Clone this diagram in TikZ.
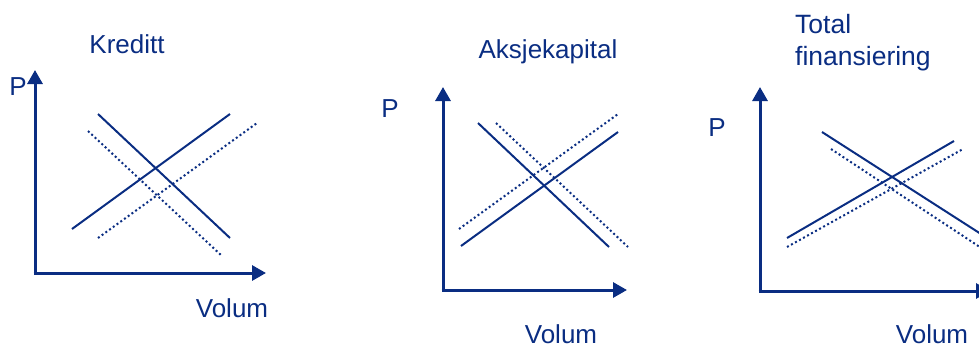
\documentclass[tikz,border=0pt]{standalone}
\usepackage{fontspec}
\setmainfont{Liberation Sans}
\usetikzlibrary{arrows.meta}
\definecolor{navy}{RGB}{10,45,130}
\begin{document}
\begin{tikzpicture}[x=1pt,y=-1pt,
  axis/.style={draw=navy,line width=3pt,-{Triangle[width=15pt,length=14pt]}},
  curve/.style={draw=navy,line width=2pt},
  dotcurve/.style={draw=navy,line width=2pt,dash pattern=on 2pt off 2.6pt},
  lbl/.style={text=navy,font=\fontsize{26}{28}\selectfont,inner sep=0pt},
  ttl/.style={text=navy,font=\fontsize{26.5}{32}\selectfont,inner sep=0pt,align=left}]
\useasboundingbox (0,0) rectangle (979,349);
\clip (0,0) rectangle (979,349);
% Panel 1: Kreditt
\coordinate (o1) at (35,273);
\coordinate (y1) at (35,70);
\coordinate (x1) at (266,273);
\draw[axis] ([yshift=-1.5pt]o1) -- (y1);
\draw[axis] ([xshift=-1.5pt]o1) -- (x1);
\node[lbl] (p1) at (18,87) {P};
\node[lbl] (t1) at (127,44) {Kreditt};
\node[lbl] (v1) at (232,308) {Volum};
\coordinate (d1a) at (98,114); \coordinate (d1b) at (230,238);
\coordinate (s1a) at (72,229); \coordinate (s1b) at (230,114);
\coordinate (dd1a) at (88,131); \coordinate (dd1b) at (222,256);
\coordinate (ds1a) at (98,238); \coordinate (ds1b) at (257,123);
\draw[curve] (d1a) -- (d1b);
\draw[curve] (s1a) -- (s1b);
\draw[dotcurve] (dd1a) -- (dd1b);
\draw[dotcurve] (ds1a) -- (ds1b);
% Panel 2: Aksjekapital
\coordinate (o2) at (443,290);
\coordinate (y2) at (443,87);
\coordinate (x2) at (627,290);
\draw[axis] ([yshift=-1.5pt]o2) -- (y2);
\draw[axis] ([xshift=-1.5pt]o2) -- (x2);
\node[lbl] (p2) at (390,109) {P};
\node[lbl] (t2) at (548,52) {Aksjekapital};
\node[lbl] (v2) at (561,334) {Volum};
\coordinate (d2a) at (478,123); \coordinate (d2b) at (609,247);
\coordinate (s2a) at (461,246); \coordinate (s2b) at (618,132);
\coordinate (dd2a) at (496,123); \coordinate (dd2b) at (628,247);
\coordinate (ds2a) at (459,229); \coordinate (ds2b) at (618,114);
\draw[curve] (d2a) -- (d2b);
\draw[curve] (s2a) -- (s2b);
\draw[dotcurve] (dd2a) -- (dd2b);
\draw[dotcurve] (ds2a) -- (ds2b);
% Panel 3: Total finansiering
\coordinate (o3) at (760,291);
\coordinate (y3) at (760,87);
\coordinate (x3) at (990,291);
\draw[axis] ([yshift=-1.5pt]o3) -- (y3);
\draw[axis] ([xshift=-1.5pt]o3) -- (x3);
\node[lbl] (p3) at (717,128) {P};
\node[ttl,anchor=north west] (t3) at (795,14) {Total\\finansiering};
\node[lbl] (v3) at (932,334) {Volum};
\coordinate (d3a) at (822,132); \coordinate (d3b) at (995,243);
\coordinate (s3a) at (787,238); \coordinate (s3b) at (954,141);
\coordinate (dd3a) at (831,149); \coordinate (dd3b) at (995,257);
\coordinate (ds3a) at (787,247); \coordinate (ds3b) at (963,149);
\draw[curve] (d3a) -- (d3b);
\draw[curve] (s3a) -- (s3b);
\draw[dotcurve] (dd3a) -- (dd3b);
\draw[dotcurve] (ds3a) -- (ds3b);
\end{tikzpicture}
\end{document}
